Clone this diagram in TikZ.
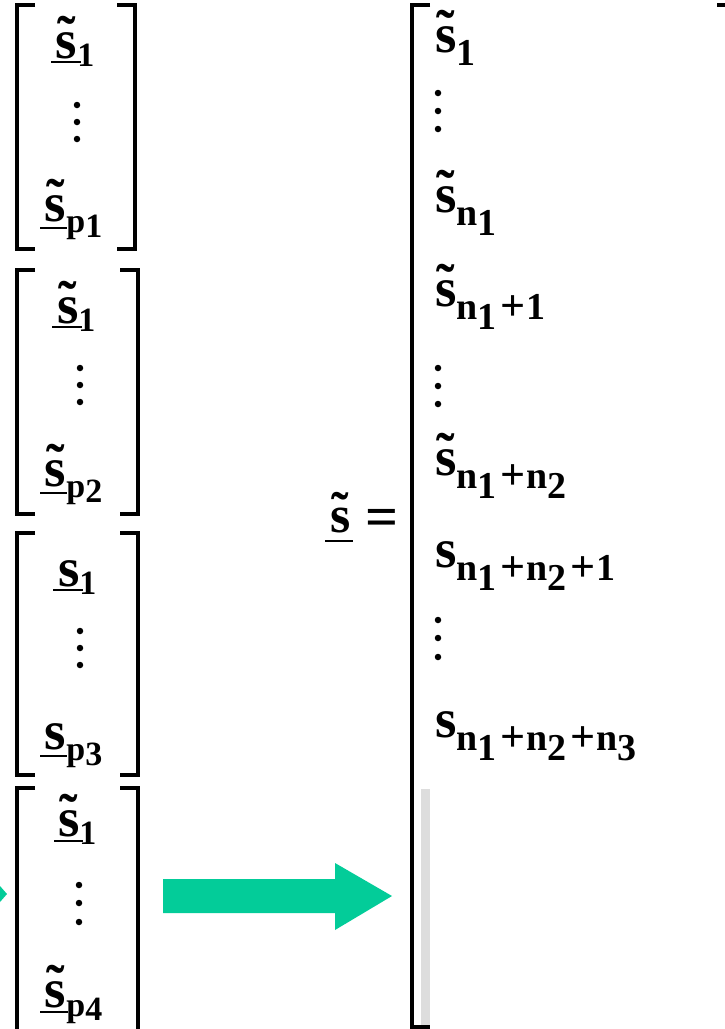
\documentclass[tikz,border=0pt]{standalone}
\usepackage{fontspec}
\usepackage{graphicx}
\setmainfont{Liberation Serif}
\newcommand\MF{\fontsize{55}{55}\selectfont\bfseries}
\newcommand\SF{\fontsize{38}{38}\selectfont\bfseries}
\newcommand\LS{\fontsize{34}{34}\selectfont\bfseries}
\newcommand\ts{\leavevmode\setbox0\hbox{s}\rlap{\hbox to\wd0{\hss\raisebox{4pt}{\char"02DC}\hss}}s}
\newcommand\lowsub[1]{\raisebox{-10pt}{#1}}
\newcommand\plus{\kern4pt{\fontsize{44}{44}\selectfont\bfseries\raisebox{-1pt}{+}}\kern1pt}
\definecolor{arrowgreen}{RGB}{3,204,153}
\definecolor{bargray}{RGB}{221,221,221}
\tikzset{
  ent/.style={anchor=base west, inner sep=0pt, outer sep=0pt, font=\MF},
  brk/.style={line width=3.2pt, line cap=butt, line join=miter},
  uline/.style={line width=2.6pt},
  vdot/.style={fill=black, circle, inner sep=0pt, minimum size=6.5pt},
}
\begin{document}
\begin{tikzpicture}[x=1pt,y=-1pt]
\useasboundingbox (0,0) rectangle (724,1029);
% ---- left boxes ----
\foreach \t/\b/\r in {5/249/135, 270/514/138, 533/775/138, 788/1040/138}{
  \draw[brk] (35,\t) -- (17,\t) -- (17,\b) -- (35,\b);
  \draw[brk] (\r-18,\t) -- (\r,\t) -- (\r,\b) -- (\r-18,\b);
}
% box 1
\node[ent] (a1) at (56,58) {\ts\raisebox{-8pt}{\LS 1}};
\draw[uline] (51,62) -- (81,62);
\node[vdot] (a1d1) at (77,105) {};
\node[vdot] (a1d2) at (77,122) {};
\node[vdot] (a1d3) at (77,139) {};
\node[ent] (a2) at (45,221) {\ts\raisebox{-11pt}{\LS p\raisebox{-5pt}{1}}};
\draw[uline] (40,228) -- (67,228);
% box 2
\node[ent] (b1) at (57,323) {\ts\raisebox{-8pt}{\LS 1}};
\draw[uline] (52,327) -- (82,327);
\node[vdot] (b1d1) at (80,368) {};
\node[vdot] (b1d2) at (80,385) {};
\node[vdot] (b1d3) at (80,402) {};
\node[ent] (b2) at (45,486) {\ts\raisebox{-11pt}{\LS p\raisebox{-5pt}{2}}};
\draw[uline] (40,493) -- (67,493);
% box 3
\node[ent] (c1) at (58,586) {s\raisebox{-8pt}{\LS 1}};
\draw[uline] (53,590) -- (83,590);
\node[vdot] (c1d1) at (80,631) {};
\node[vdot] (c1d2) at (80,648) {};
\node[vdot] (c1d3) at (80,665) {};
\node[ent] (c2) at (45,749) {s\raisebox{-11pt}{\LS p\raisebox{-5pt}{3}}};
\draw[uline] (40,756) -- (67,756);
% box 4
\node[ent] (d1) at (58,836) {\ts\raisebox{-8pt}{\LS 1}};
\draw[uline] (54,841) -- (83,841);
\node[vdot] (d1d1) at (79,885) {};
\node[vdot] (d1d2) at (79,903) {};
\node[vdot] (d1d3) at (79,922) {};
\node[ent] (d2) at (45,1007) {\ts\raisebox{-9pt}{\LS p\raisebox{-4pt}{4}}};
\draw[uline] (40,1012) -- (68,1012);
% small green tip at left edge
\fill[arrowgreen] (0,886) -- (7,894) -- (0,902) -- cycle;
% big arrow
\fill[arrowgreen] (163,879) -- (335,879) -- (335,863) -- (392,896) -- (335,930) -- (335,913) -- (163,913) -- cycle;
% ---- s = ----
\node[ent, font=\fontsize{52}{52}\selectfont\bfseries] (lhs) at (330,532) {\ts};
\draw[uline] (325,541) -- (353,541);
\node[ent, font=\fontsize{58}{58}\selectfont\bfseries] (eq) at (365,536) {=};
% ---- big bracket ----
\fill[bargray] (421,789) rectangle (430,1027);
\draw[brk] (430,5) -- (412,5) -- (412,1027) -- (430,1027);
\draw[brk] (717,5) -- (726,5);
% right entries
\node[ent] (r1) at (435,52) {\ts\raisebox{-13pt}{\SF 1}};
\node[vdot] (r1d1) at (438,93) {};
\node[vdot] (r1d2) at (438,111) {};
\node[vdot] (r1d3) at (438,129) {};
\node[ent] (r2) at (435,212) {\ts\raisebox{-13pt}{\SF n\lowsub{1}}};
\node[ent] (r3) at (435,306) {\ts\raisebox{-13pt}{\SF n\lowsub{1}\plus 1}};
\node[vdot] (r3d1) at (438,368) {};
\node[vdot] (r3d2) at (438,386) {};
\node[vdot] (r3d3) at (438,404) {};
\node[ent] (r4) at (435,475) {\ts\raisebox{-13pt}{\SF n\lowsub{1}\plus n\lowsub{2}}};
\node[ent] (r5) at (435,567) {s\raisebox{-13pt}{\SF n\lowsub{1}\plus n\lowsub{2}\plus 1}};
\node[vdot] (r5d1) at (438,620) {};
\node[vdot] (r5d2) at (438,638) {};
\node[vdot] (r5d3) at (438,657) {};
\node[ent] (r6) at (435,737) {s\raisebox{-13pt}{\SF n\lowsub{1}\plus n\lowsub{2}\plus n\lowsub{3}}};
\end{tikzpicture}
\end{document}
